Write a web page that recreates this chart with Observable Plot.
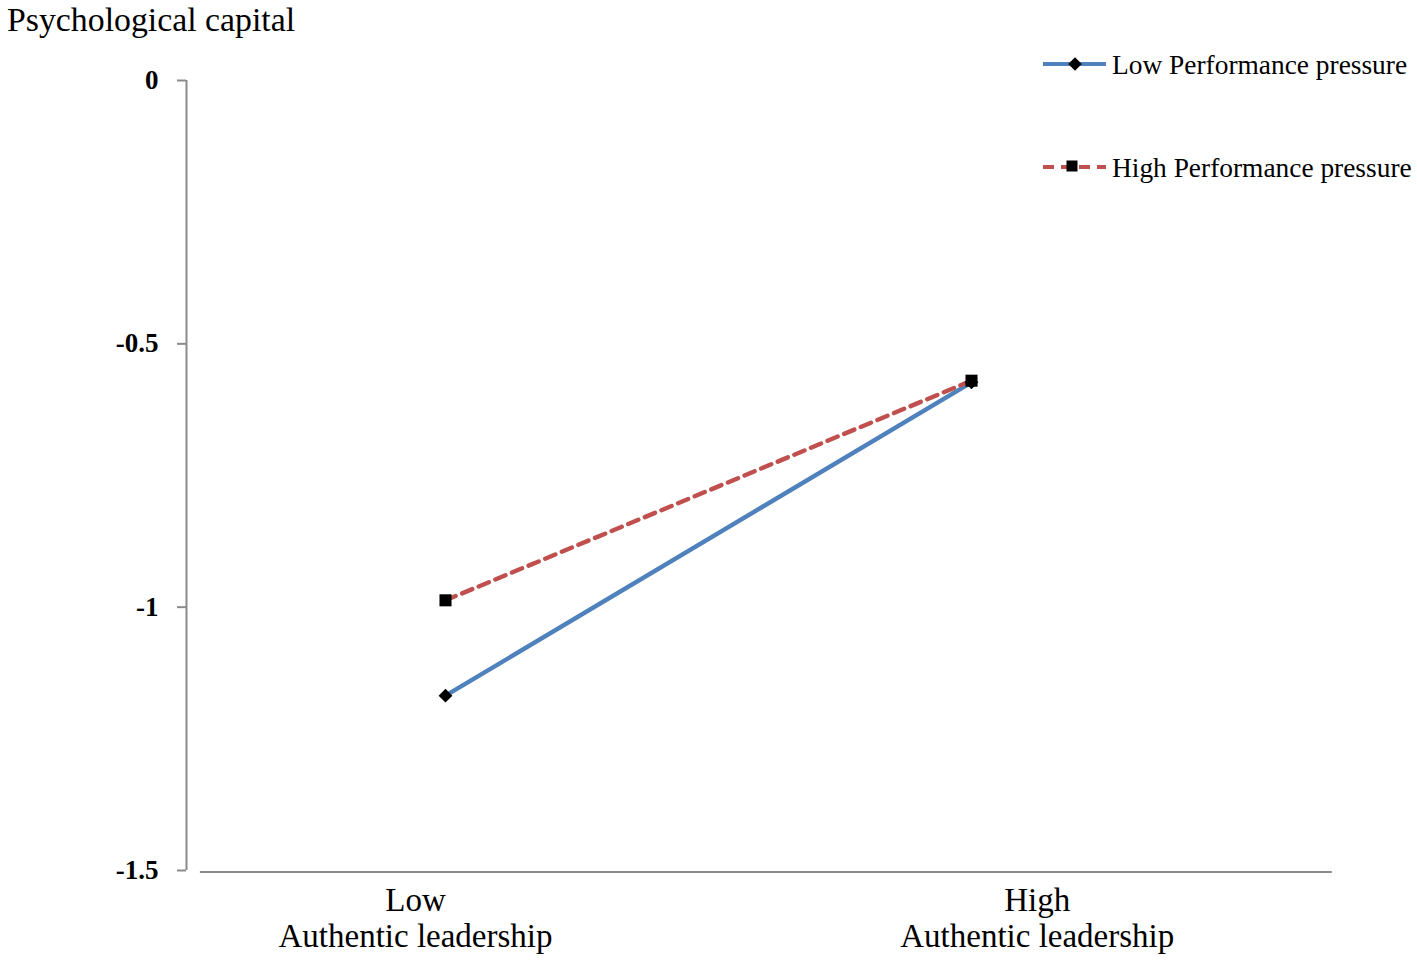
<!DOCTYPE html>
<html>
<head>
<meta charset="utf-8">
<script src="https://cdn.jsdelivr.net/npm/d3@7"></script>
<script src="https://cdn.jsdelivr.net/npm/@observablehq/plot@0.6"></script>
<style>
  html, body { margin: 0; padding: 0; background: #fff; }
  #chart svg { display: block; }
</style>
</head>
<body>
<div id="chart"></div>
<script>
// ---- data ----
const categories = ["Low", "High"];
const categoryLevel = ["Low", "High"];
const categoryName = ["Authentic leadership", "Authentic leadership"];
const lowPressure = [-1.168, -0.573];
const highPressure = [-0.987, -0.570];
const seriesNames = ["Low Performance pressure", "High Performance pressure"];
const yTicks = [0, -0.5, -1, -1.5];
const title = "Psychological capital";

// ---- layout ----
const W = 1417, H = 961;
const serif = "'Liberation Serif', 'Times New Roman', serif";
const blue = "#4F81BD", red = "#C0504D", axisGray = "#8a8a8a";
const labelX = [-0.057, 1.125];     // category label positions (x units)
const baseX = [-0.466, 1.686];      // horizontal axis line extent (x units)
const yAxisX = -0.4924;             // vertical axis line position (x units)

const lowData = categories.map((c, i) => ({x: i, y: lowPressure[i], series: seriesNames[0]}));
const highData = categories.map((c, i) => ({x: i, y: highPressure[i], series: seriesNames[1]}));
const labelData = categories.map((c, i) => ({x: labelX[i], level: categoryLevel[i], name: categoryName[i]}));

function overlay(index, scales, values, dimensions) {
  const g = d3.create("svg:g").attr("font-family", serif).attr("fill", "black").attr("text-anchor", "start");
  g.append("text").attr("x", 7).attr("y", 31).attr("font-size", 33.8).text(title);
  const items = [
    {y: 64, name: seriesNames[0], color: blue, dash: null, sym: "diamond", mx: 1075},
    {y: 167, name: seriesNames[1], color: red, dash: "11,7", sym: "square", mx: 1072}
  ];
  for (const it of items) {
    g.append("line").attr("x1", 1043).attr("x2", 1106).attr("y1", it.y).attr("y2", it.y)
      .attr("stroke", it.color).attr("stroke-width", 4)
      .attr("stroke-dasharray", it.dash);
    if (it.sym === "diamond") {
      g.append("rect").attr("x", -4.8).attr("y", -4.8).attr("width", 9.6).attr("height", 9.6)
        .attr("transform", `translate(${it.mx},${it.y}) rotate(45)`);
    } else {
      g.append("rect").attr("x", it.mx - 5.5).attr("y", it.y - 6.5).attr("width", 11).attr("height", 11);
    }
    g.append("text").attr("x", 1112).attr("y", it.y + 10).attr("font-size", 27.4).text(it.name);
  }
  return g.node();
}

const chart = Plot.plot({
  width: W,
  height: H,
  marginLeft: 186,
  marginRight: 0,
  marginTop: 80,
  marginBottom: 91,
  style: {fontFamily: serif, background: "white", overflow: "visible"},
  x: {domain: [0, 1], range: [445, 971], axis: null},
  y: {domain: [-1.5, 0], axis: null},
  marks: [
    Plot.ruleX([yAxisX], {y1: 0, y2: -1.5, stroke: axisGray, strokeWidth: 2}),
    Plot.ruleY([-1.5], {x1: baseX[0], x2: baseX[1], stroke: axisGray, strokeWidth: 2, dy: 1.5}),
    Plot.axisY({
      ticks: yTicks,
      tickFormat: d => String(d),
      tickSize: 9,
      tickPadding: 19,
      fontSize: 27,
      fontWeight: "bold",
      stroke: axisGray,
      strokeWidth: 2,
      color: "black",
      label: null
    }),
    Plot.line(lowData, {x: "x", y: "y", stroke: blue, strokeWidth: 4.4}),
    Plot.line(highData, {x: "x", y: "y", stroke: red, strokeWidth: 4.4, strokeDasharray: "11,7"}),
    Plot.dot(lowData, {x: "x", y: "y", symbol: "square", rotate: 45, r: 5.5, fill: "black"}),
    Plot.dot(highData, {x: "x", y: "y", symbol: "square", r: 6.8, fill: "black"}),
    Plot.text(labelData, {
      x: "x", y: () => -1.5, text: "level",
      fontSize: 33, lineAnchor: "bottom", dy: 40, fill: "black"
    }),
    Plot.text(labelData, {
      x: "x", y: () => -1.5, text: "name",
      fontSize: 33, lineAnchor: "bottom", dy: 76, fill: "black"
    }),
    overlay
  ]
});
document.getElementById("chart").appendChild(chart);
</script>
</body>
</html>
